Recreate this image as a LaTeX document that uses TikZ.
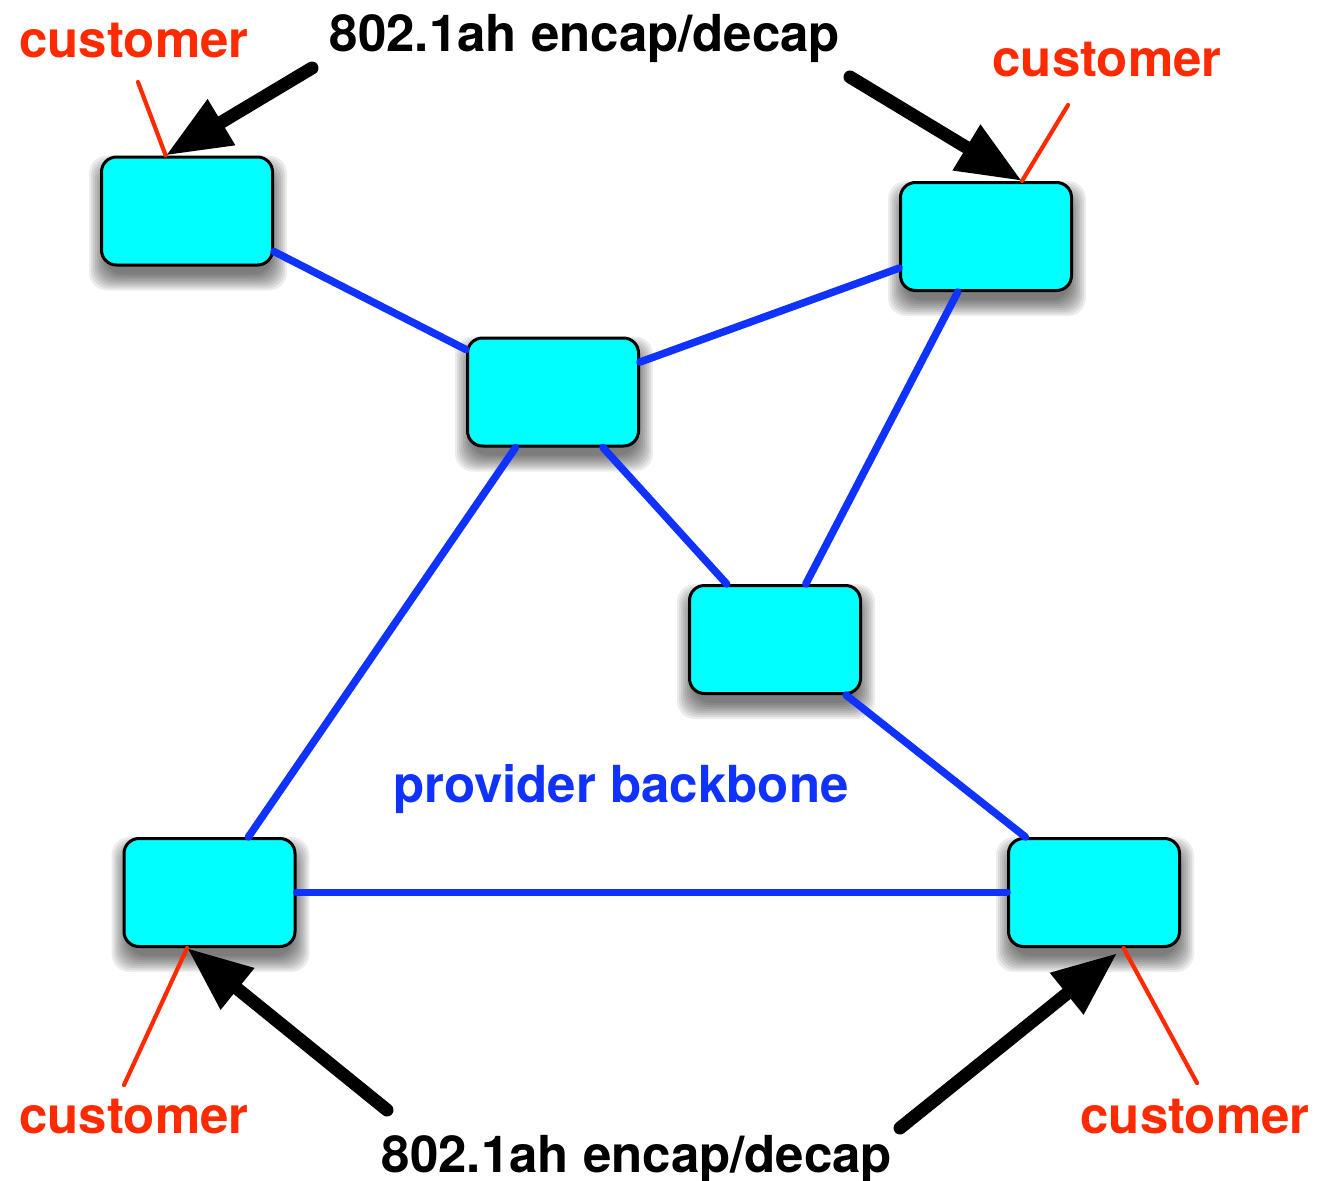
\documentclass[tikz,border=0pt]{standalone}
\usepackage{fontspec}
\setmainfont{TeX Gyre Heros}
\usetikzlibrary{arrows.meta,calc}
\pgfdeclarelayer{background}
\pgfsetlayers{background,main}
\definecolor{boxcyan}{RGB}{0,255,255}
\definecolor{linkblue}{RGB}{16,50,255}
\definecolor{custred}{RGB}{255,42,0}
\begin{document}
\begin{tikzpicture}[x=1pt,y=-1pt,
  bridge/.style={draw=black,line width=3pt,fill=boxcyan,rounded corners=15pt,minimum width=171pt,minimum height=108pt,inner sep=0pt},
  shadowpart/.style={fill=black,fill opacity=0.075,rounded corners=18pt},
  link/.style={draw=linkblue,line width=7.5pt,line cap=round},
  custline/.style={draw=custred,line width=4.2pt,line cap=round},
  bigarrow/.style={draw=black,line width=13pt,line cap=round,-{Triangle[length=65pt,width=50pt]}},
  lbl/.style={font=\fontsize{51}{60}\selectfont\bfseries,inner sep=0pt,anchor=base},
]
\useasboundingbox (0,0) rectangle (1319,1180);

\node[bridge] (tl) at (187,211) {};
\node[bridge] (tr) at (986,236.5) {};
\node[bridge] (mid) at (553,392) {};
\node[bridge] (rm) at (775,639.5) {};
\node[bridge] (bl) at (209.5,892.5) {};
\node[bridge] (br) at (1094,892.5) {};

\begin{pgfonlayer}{background}
\fill[white] (0,0) rectangle (1319,1180);
\foreach \n in {tl,tr,mid,rm,bl,br}{
  \foreach \s in {12,10,8,6,4,2,0,-2,-4}{
    \fill[shadowpart] ($(\n.south west)+(1-\s,12+\s)$) rectangle ($(\n.north east)+(1+\s,12-\s)$);
  }
}
\end{pgfonlayer}

\draw[link] (tl.-25.5) -- (mid.154.3);
\draw[link] (mid.19.4) -- (tr.-160);
\draw[link] (tr.-117.6) -- (rm.61.9);
\draw[link] (mid.-48.4) -- (rm.131.8);
\draw[link] (mid.-124.4) -- (bl.55.7);
\draw[link] (rm.-38.2) -- (br.141);
\draw[link] (bl.east) -- (br.west);

\node[lbl,text=custred] (c1) at (134,58) {customer};
\node[lbl,text=custred] (c2) at (1107,77) {customer};
\node[lbl,text=custred] (c3) at (134,1133) {customer};
\node[lbl,text=custred] (c4) at (1195,1133) {customer};
\node[lbl] (e1) at (585,52) {802.1ah encap/decap};
\node[lbl] (e2) at (637,1172) {802.1ah encap/decap};
\node[lbl,text=linkblue] (pb) at (621,802) {provider backbone};

\coordinate (r1) at (138,82);
\coordinate (r2) at (1068,105);
\coordinate (r3) at (124,1085);
\coordinate (r4) at (1197,1083);
\draw[custline] (r1) -- (tl.111.3);
\draw[custline] (r2) -- (tr.57);
\draw[custline] (r3) -- (bl.-112.4);
\draw[custline] (r4) -- (br.-62);

\coordinate (a1) at (312,68);
\coordinate (a2) at (850,77);
\coordinate (a3) at (387,1110);
\coordinate (a4) at (900,1128);
\draw[bigarrow] (a1) -- (tl.111.3);
\draw[bigarrow] (a2) -- (tr.57);
\draw[bigarrow] (a3) -- (bl.-112.4);
\draw[bigarrow,shorten >=8pt] (a4) -- (br.-62);
\end{tikzpicture}
\end{document}
